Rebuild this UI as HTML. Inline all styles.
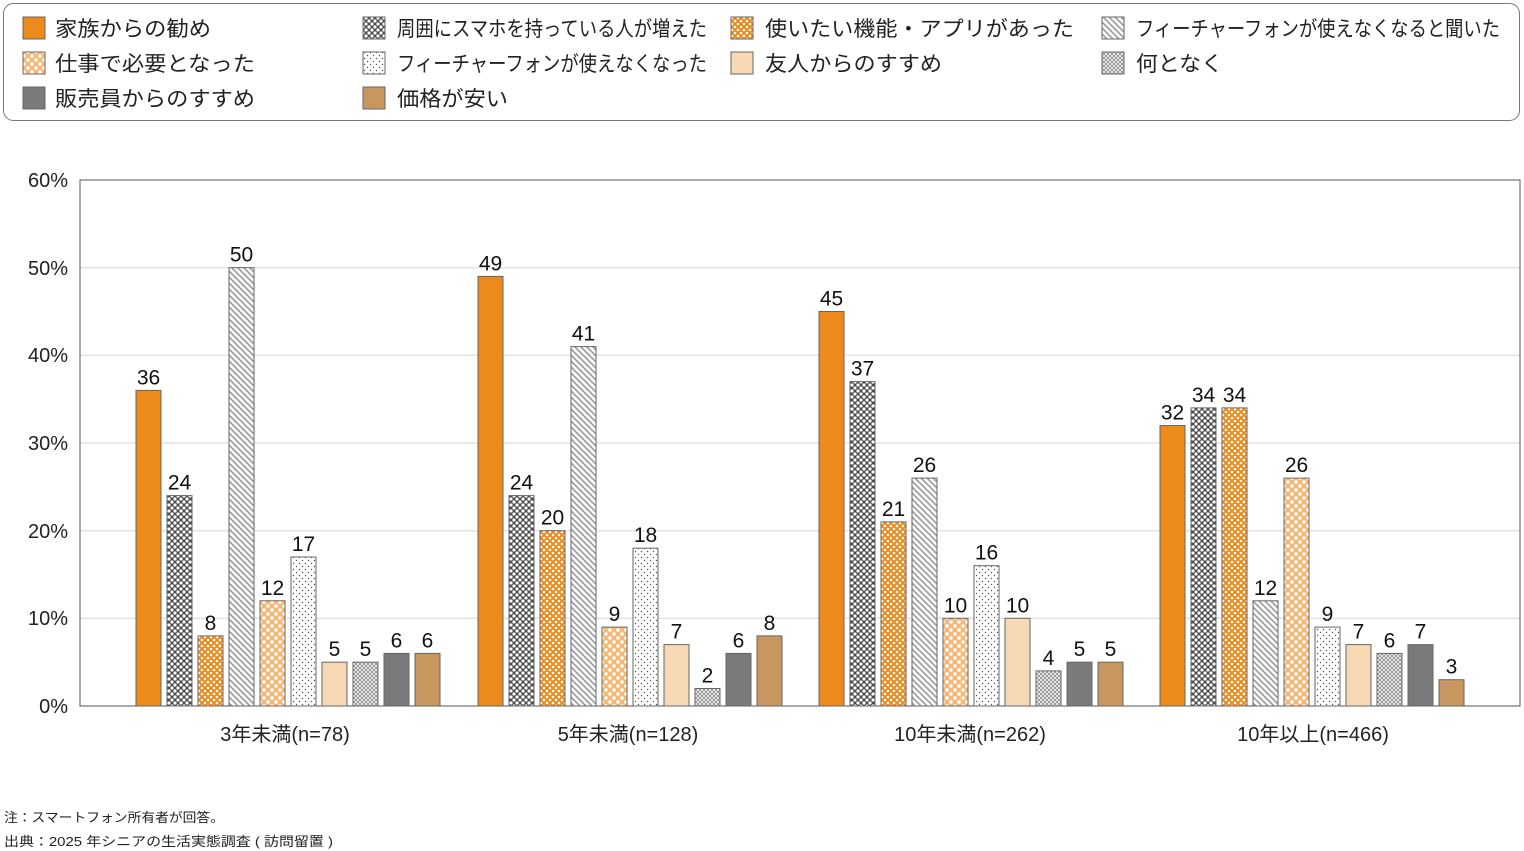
<!DOCTYPE html><html><head><meta charset="utf-8"><style>body{margin:0;background:#fff}svg{display:block;font-family:"Liberation Sans","Noto Sans CJK JP",sans-serif}</style></head><body>
<svg width="1524" height="851" viewBox="0 0 1524 851">
<defs>
<pattern id="p1" width="6" height="6" patternUnits="userSpaceOnUse"><rect width="6" height="6" fill="#4a4a4a"/><circle cx="3" cy="3" r="1.6" fill="#fff"/><circle cx="0" cy="0" r="1.6" fill="#fff"/><circle cx="6" cy="0" r="1.6" fill="#fff"/><circle cx="0" cy="6" r="1.6" fill="#fff"/><circle cx="6" cy="6" r="1.6" fill="#fff"/></pattern>
<pattern id="p2" width="6" height="6" patternUnits="userSpaceOnUse"><rect width="6" height="6" fill="#ec8a1c"/><circle cx="3" cy="3" r="1.3" fill="#fff"/><circle cx="0" cy="0" r="1.3" fill="#fff"/><circle cx="6" cy="0" r="1.3" fill="#fff"/><circle cx="0" cy="6" r="1.3" fill="#fff"/><circle cx="6" cy="6" r="1.3" fill="#fff"/></pattern>
<pattern id="p3" width="6" height="6" patternUnits="userSpaceOnUse"><rect width="6" height="6" fill="#fff"/><path d="M-1,1 L1,-1 M0,6 L6,0 M5,7 L7,5" stroke="#9a9a9a" stroke-width="1.6" transform="scale(-1,1) translate(-6,0)"/></pattern>
<pattern id="p4" width="8" height="8" patternUnits="userSpaceOnUse"><rect width="8" height="8" fill="#f6b877"/><circle cx="4" cy="4" r="1.8" fill="#fff"/><circle cx="0" cy="0" r="1.8" fill="#fff"/><circle cx="8" cy="0" r="1.8" fill="#fff"/><circle cx="0" cy="8" r="1.8" fill="#fff"/><circle cx="8" cy="8" r="1.8" fill="#fff"/></pattern>
<pattern id="p5" width="6" height="6" patternUnits="userSpaceOnUse"><rect width="6" height="6" fill="#fff"/><circle cx="1.5" cy="1.5" r="0.7" fill="#555"/><circle cx="4.5" cy="4.5" r="0.7" fill="#555"/></pattern>
<pattern id="p7" width="4" height="4" patternUnits="userSpaceOnUse"><rect width="4" height="4" fill="#9a9a9a"/><circle cx="2" cy="2" r="1" fill="#fff"/><circle cx="0" cy="0" r="1" fill="#fff"/><circle cx="4" cy="0" r="1" fill="#fff"/><circle cx="0" cy="4" r="1" fill="#fff"/><circle cx="4" cy="4" r="1" fill="#fff"/></pattern>
</defs>
<rect x="3.5" y="3.5" width="1516" height="117" rx="10" fill="#fff" stroke="#777" stroke-width="1"/>
<g font-size="21" fill="#222" stroke="#666" stroke-width="1">
<rect x="23" y="17" width="22" height="22" fill="#ec8a1c"/><rect x="23" y="52" width="22" height="22" fill="url(#p4)"/><rect x="23" y="87" width="22" height="22" fill="#7a7a7a"/>
<rect x="363" y="17" width="22" height="22" fill="url(#p1)"/><rect x="363" y="52" width="22" height="22" fill="url(#p5)"/><rect x="363" y="87" width="22" height="22" fill="#c8965f"/>
<rect x="731" y="17" width="22" height="22" fill="url(#p2)"/><rect x="731" y="52" width="22" height="22" fill="#f8d9b5"/>
<rect x="1102" y="17" width="22" height="22" fill="url(#p3)"/><rect x="1102" y="52" width="22" height="22" fill="url(#p7)"/>
</g>
<g font-size="21" fill="#222" lengthAdjust="spacingAndGlyphs">
<text x="55" y="36" textLength="156" lengthAdjust="spacingAndGlyphs">家族からの勧め</text><text x="55" y="71" textLength="200" lengthAdjust="spacingAndGlyphs">仕事で必要となった</text><text x="55" y="106" textLength="200" lengthAdjust="spacingAndGlyphs">販売員からのすすめ</text>
<text x="397" y="36" textLength="310" lengthAdjust="spacingAndGlyphs">周囲にスマホを持っている人が増えた</text><text x="397" y="71" textLength="310" lengthAdjust="spacingAndGlyphs">フィーチャーフォンが使えなくなった</text><text x="397" y="106" textLength="111" lengthAdjust="spacingAndGlyphs">価格が安い</text>
<text x="765" y="36" textLength="309" lengthAdjust="spacingAndGlyphs">使いたい機能・アプリがあった</text><text x="765" y="71" textLength="177" lengthAdjust="spacingAndGlyphs">友人からのすすめ</text>
<text x="1136" y="36" textLength="364" lengthAdjust="spacingAndGlyphs">フィーチャーフォンが使えなくなると聞いた</text><text x="1136" y="71" textLength="87" lengthAdjust="spacingAndGlyphs">何となく</text>
</g>
<g stroke="#e3e3e3" stroke-width="1.5"><line x1="80" x2="1520" y1="618.3" y2="618.3"/><line x1="80" x2="1520" y1="530.7" y2="530.7"/><line x1="80" x2="1520" y1="443" y2="443"/><line x1="80" x2="1520" y1="355.3" y2="355.3"/><line x1="80" x2="1520" y1="267.7" y2="267.7"/></g>
<rect x="80" y="180" width="1440" height="526" fill="none" stroke="#555" stroke-width="1"/>
<g font-size="20" fill="#222" text-anchor="end"><text x="68" y="713">0%</text><text x="68" y="625">10%</text><text x="68" y="538">20%</text><text x="68" y="450">30%</text><text x="68" y="362">40%</text><text x="68" y="275">50%</text><text x="68" y="187">60%</text></g>
<g font-size="20" fill="#222" text-anchor="middle"><text x="285" y="741">3年未満(n=78)</text><text x="628" y="741">5年未満(n=128)</text><text x="970" y="741">10年未満(n=262)</text><text x="1313" y="741">10年以上(n=466)</text></g>
<g stroke="#666" stroke-width="1">
<g transform="translate(136,706)">
<rect x="0" y="-315.6" width="25" height="315.6" fill="#ec8a1c"/><rect x="31" y="-210.4" width="25" height="210.4" fill="url(#p1)"/><rect x="62" y="-70.1" width="25" height="70.1" fill="url(#p2)"/><rect x="93" y="-438.3" width="25" height="438.3" fill="url(#p3)"/><rect x="124" y="-105.2" width="25" height="105.2" fill="url(#p4)"/><rect x="155" y="-149" width="25" height="149" fill="url(#p5)"/><rect x="186" y="-43.8" width="25" height="43.8" fill="#f8d9b5"/><rect x="217" y="-43.8" width="25" height="43.8" fill="url(#p7)"/><rect x="248" y="-52.6" width="25" height="52.6" fill="#7a7a7a"/><rect x="279" y="-52.6" width="25" height="52.6" fill="#c8965f"/>
</g>
<g transform="translate(478,706)">
<rect x="0" y="-429.6" width="25" height="429.6" fill="#ec8a1c"/><rect x="31" y="-210.4" width="25" height="210.4" fill="url(#p1)"/><rect x="62" y="-175.3" width="25" height="175.3" fill="url(#p2)"/><rect x="93" y="-359.4" width="25" height="359.4" fill="url(#p3)"/><rect x="124" y="-78.9" width="25" height="78.9" fill="url(#p4)"/><rect x="155" y="-157.8" width="25" height="157.8" fill="url(#p5)"/><rect x="186" y="-61.4" width="25" height="61.4" fill="#f8d9b5"/><rect x="217" y="-17.5" width="25" height="17.5" fill="url(#p7)"/><rect x="248" y="-52.6" width="25" height="52.6" fill="#7a7a7a"/><rect x="279" y="-70.1" width="25" height="70.1" fill="#c8965f"/>
</g>
<g transform="translate(819,706)">
<rect x="0" y="-394.5" width="25" height="394.5" fill="#ec8a1c"/><rect x="31" y="-324.4" width="25" height="324.4" fill="url(#p1)"/><rect x="62" y="-184.1" width="25" height="184.1" fill="url(#p2)"/><rect x="93" y="-227.9" width="25" height="227.9" fill="url(#p3)"/><rect x="124" y="-87.7" width="25" height="87.7" fill="url(#p4)"/><rect x="155" y="-140.3" width="25" height="140.3" fill="url(#p5)"/><rect x="186" y="-87.7" width="25" height="87.7" fill="#f8d9b5"/><rect x="217" y="-35.1" width="25" height="35.1" fill="url(#p7)"/><rect x="248" y="-43.8" width="25" height="43.8" fill="#7a7a7a"/><rect x="279" y="-43.8" width="25" height="43.8" fill="#c8965f"/>
</g>
<g transform="translate(1160,706)">
<rect x="0" y="-280.5" width="25" height="280.5" fill="#ec8a1c"/><rect x="31" y="-298.1" width="25" height="298.1" fill="url(#p1)"/><rect x="62" y="-298.1" width="25" height="298.1" fill="url(#p2)"/><rect x="93" y="-105.2" width="25" height="105.2" fill="url(#p3)"/><rect x="124" y="-227.9" width="25" height="227.9" fill="url(#p4)"/><rect x="155" y="-78.9" width="25" height="78.9" fill="url(#p5)"/><rect x="186" y="-61.4" width="25" height="61.4" fill="#f8d9b5"/><rect x="217" y="-52.6" width="25" height="52.6" fill="url(#p7)"/><rect x="248" y="-61.4" width="25" height="61.4" fill="#7a7a7a"/><rect x="279" y="-26.3" width="25" height="26.3" fill="#c8965f"/>
</g>
</g>
<g font-size="21" fill="#111" text-anchor="middle">
<g transform="translate(148.5,700)"><text y="-315.6">36</text><text x="31" y="-210.4">24</text><text x="62" y="-70.1">8</text><text x="93" y="-438.3">50</text><text x="124" y="-105.2">12</text><text x="155" y="-149">17</text><text x="186" y="-43.8">5</text><text x="217" y="-43.8">5</text><text x="248" y="-52.6">6</text><text x="279" y="-52.6">6</text></g>
<g transform="translate(490.5,700)"><text y="-429.6">49</text><text x="31" y="-210.4">24</text><text x="62" y="-175.3">20</text><text x="93" y="-359.4">41</text><text x="124" y="-78.9">9</text><text x="155" y="-157.8">18</text><text x="186" y="-61.4">7</text><text x="217" y="-17.5">2</text><text x="248" y="-52.6">6</text><text x="279" y="-70.1">8</text></g>
<g transform="translate(831.5,700)"><text y="-394.5">45</text><text x="31" y="-324.4">37</text><text x="62" y="-184.1">21</text><text x="93" y="-227.9">26</text><text x="124" y="-87.7">10</text><text x="155" y="-140.3">16</text><text x="186" y="-87.7">10</text><text x="217" y="-35.1">4</text><text x="248" y="-43.8">5</text><text x="279" y="-43.8">5</text></g>
<g transform="translate(1172.5,700)"><text y="-280.5">32</text><text x="31" y="-298.1">34</text><text x="62" y="-298.1">34</text><text x="93" y="-105.2">12</text><text x="124" y="-227.9">26</text><text x="155" y="-78.9">9</text><text x="186" y="-61.4">7</text><text x="217" y="-52.6">6</text><text x="248" y="-61.4">7</text><text x="279" y="-26.3">3</text></g>
</g>
<g font-size="13" fill="#222"><text x="4" y="822" textLength="220" lengthAdjust="spacingAndGlyphs">注：スマートフォン所有者が回答。</text><text x="4" y="846" textLength="329" lengthAdjust="spacingAndGlyphs">出典：2025 年シニアの生活実態調査 ( 訪問留置 )</text></g>
</svg>
</body></html>
